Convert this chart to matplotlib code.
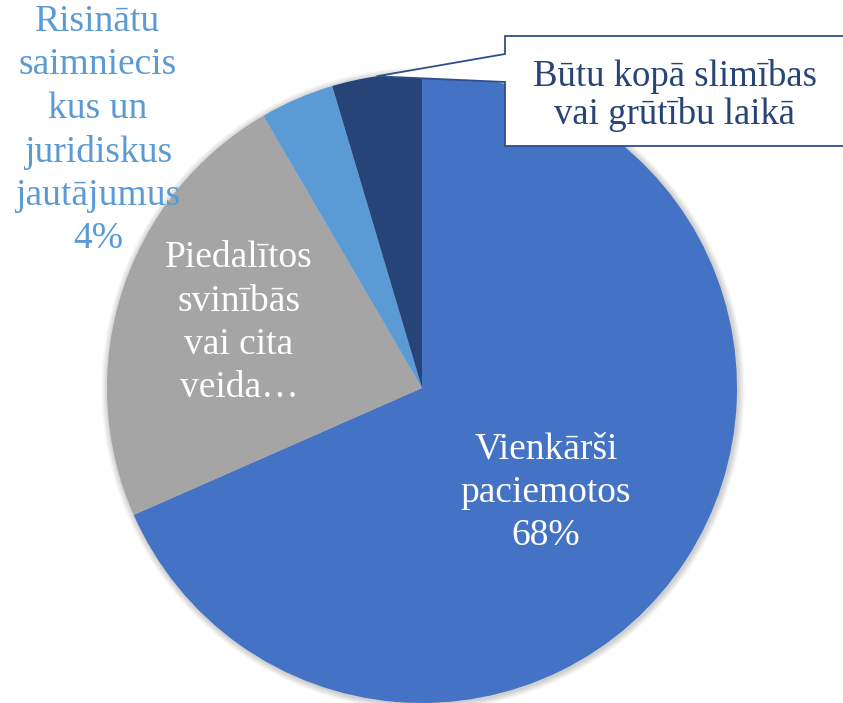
import matplotlib.pyplot as plt
import matplotlib.patches as mpatches
import numpy as np

plt.rcParams['font.family'] = ['Liberation Serif', 'DejaVu Serif']

# slice order going clockwise from 12 o'clock
categories = ["Vienkārši paciemotos",
              "Piedalītos svinībās vai cita veida…",
              "Risinātu saimnieciskus un juridiskus jautājumus",
              "Būtu kopā slimības vai grūtību laikā"]
shares = [68.4, 23.2, 3.8, 4.6]
colors = ["#4472C4", "#A5A5A5", "#5B9BD5", "#264478"]

label_texts = ["Vienkārši\npaciemotos\n68%",
               "Piedalītos\nsvinībās\nvai cita\nveida…",
               "Risinātu\nsaimniecis\nkus un\njuridiskus\njautājumus\n4%",
               "Būtu kopā slimības\nvai grūtību laikā"]

W, H = 843, 703
fig = plt.figure(figsize=(W / 100, H / 100), dpi=100)
ax = fig.add_axes([0, 0, 1, 1])

cx, cy, r = 422, H - 388, 315

# soft shadow round the pie
for i in range(8):
    ax.add_patch(mpatches.Circle((cx + 1, cy - 1), r + 1 + i * 0.8,
                                 facecolor="black", alpha=0.025,
                                 edgecolor="none", zorder=0))

wedges, _ = ax.pie(shares, colors=colors, startangle=90, counterclock=False,
                   center=(cx, cy), radius=r,
                   wedgeprops=dict(linewidth=0, edgecolor="none"))
for w in wedges:
    w.set_zorder(1)

ax.set_xlim(0, W)
ax.set_ylim(0, H)
ax.set_aspect('equal')
ax.axis('off')

# in-slice labels (y = baseline of the last line)
ax.text(546, H - 545, label_texts[0], color="white", fontsize=27,
        ha="center", va="baseline", linespacing=1.33, zorder=3)
ax.text(239, H - 397, label_texts[1], color="white", fontsize=27,
        ha="center", va="baseline", linespacing=1.33, zorder=3)
ax.text(98, H - 248, label_texts[2], color="#5B9BD5", fontsize=27,
        ha="center", va="baseline", linespacing=1.33, zorder=3)

# callout for the small dark slice
w = wedges[3]
mid = np.deg2rad((w.theta1 + w.theta2) / 2)
tip = (cx + r * np.cos(mid), cy + r * np.sin(mid))
bx0, bx1, by0, by1 = 505, 860, H - 146, H - 36
callout = mpatches.Polygon([(bx0, by1), (bx1, by1), (bx1, by0), (bx0, by0),
                            (bx0, H - 82), tip, (bx0, H - 54)],
                           closed=True, facecolor="white", edgecolor="#2F4F8A",
                           linewidth=1.3, zorder=4)
ax.add_patch(callout)
ax.text(675, H - 124, label_texts[3], color="#264478", fontsize=26.5,
        ha="center", va="baseline", linespacing=1.12, zorder=5)

fig.savefig("out.png", dpi=100)
